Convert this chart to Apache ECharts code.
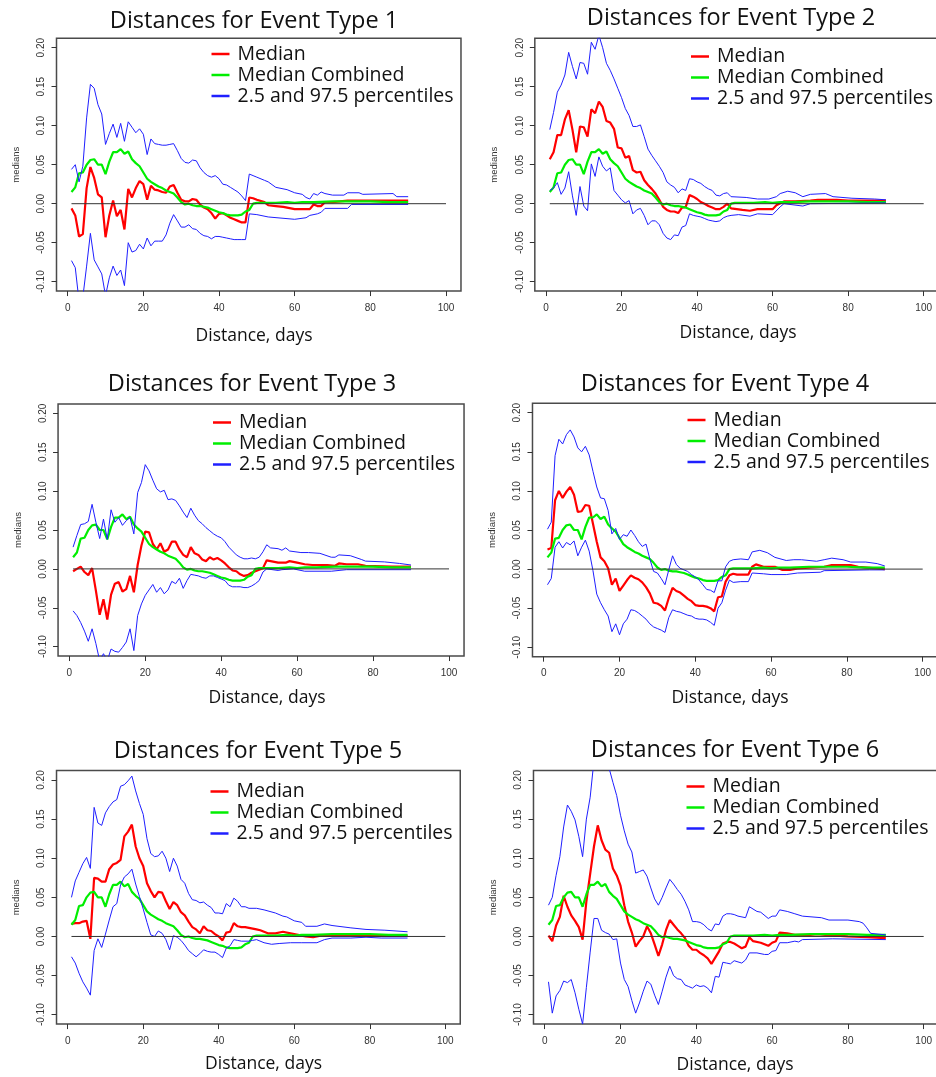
<!DOCTYPE html>
<html>
<head>
<meta charset="utf-8">
<title>Distances for Event Types 1-6</title>
<script src="https://cdn.jsdelivr.net/npm/echarts@6/dist/echarts.min.js"></script>
<style>
  html, body { margin: 0; padding: 0; background: #ffffff; }
  #chart { width: 936px; height: 1077px; }
</style>
</head>
<body>
<div id="chart"></div>
<script>
// ---- Text and ticks ----
const panelTitles = [
  'Distances for Event Type 1', 'Distances for Event Type 2',
  'Distances for Event Type 3', 'Distances for Event Type 4',
  'Distances for Event Type 5', 'Distances for Event Type 6'
];
const xAxisTitle = 'Distance, days';
const yAxisTitle = 'medians';
const legendLabels = ['Median', 'Median Combined', '2.5 and 97.5 percentiles'];
const xTicks = [0, 20, 40, 60, 80, 100];
const yTicks = [-0.10, -0.05, 0.00, 0.05, 0.10, 0.15, 0.20];
const zeroLine = [[1, 0], [100, 0]];

// ---- Median of all event types combined (same curve in every panel) ----
const medianCombined = [[1,0.015],[2,0.021],[3,0.039],[4,0.040],[5,0.050],[6,0.056],[7,0.057],[8,0.050],[9,0.050],[10,0.038],[11,0.054],[12,0.066],[13,0.066],[14,0.070],[15,0.064],[16,0.067],[17,0.057],[18,0.052],[19,0.048],[20,0.040],[21,0.032],[22,0.028],[23,0.025],[24,0.022],[25,0.020],[26,0.017],[27,0.015],[28,0.013],[29,0.008],[30,0.002],[31,-0.001],[32,0.000],[33,-0.002],[34,-0.003],[35,-0.003],[36,-0.004],[37,-0.005],[38,-0.007],[39,-0.009],[40,-0.011],[41,-0.012],[42,-0.014],[43,-0.015],[44,-0.015],[45,-0.015],[46,-0.014],[47,-0.010],[48,-0.008],[49,0.000],[50,0.001],[55,0.001],[58,0.002],[60,0.001],[62,0.002],[65,0.002],[70,0.003],[80,0.003],[85,0.002],[90,0.002]];

// ---- Event type 1 ----
const median1 = [[1,-0.006],[2,-0.015],[3,-0.042],[4,-0.039],[5,0.020],[6,0.047],[7,0.033],[8,0.012],[9,0.008],[10,-0.043],[11,-0.015],[12,0.004],[13,-0.016],[14,-0.008],[15,-0.033],[16,0.019],[17,0.008],[18,0.020],[19,0.029],[20,0.025],[21,0.005],[22,0.023],[23,0.018],[24,0.017],[25,0.015],[26,0.014],[27,0.022],[28,0.024],[29,0.014],[30,0.005],[31,0.003],[32,0.003],[33,0.006],[34,0.005],[35,-0.001],[36,-0.005],[37,-0.007],[38,-0.012],[39,-0.019],[40,-0.013],[41,-0.012],[42,-0.015],[43,-0.018],[44,-0.020],[45,-0.022],[46,-0.024],[47,-0.024],[48,0.008],[49,0.007],[50,0.005],[52,0.002],[53,-0.002],[55,-0.003],[57,-0.004],[60,-0.007],[64,-0.007],[65,-0.001],[66,-0.003],[67,-0.003],[68,0.002],[70,0.002],[74,0.004],[90,0.004]];
const upper1 = [[1,0.044],[2,0.050],[3,0.028],[4,0.048],[5,0.110],[6,0.153],[7,0.148],[8,0.127],[9,0.115],[10,0.076],[11,0.090],[12,0.102],[13,0.085],[14,0.103],[15,0.080],[16,0.105],[17,0.098],[18,0.091],[19,0.096],[20,0.089],[21,0.063],[22,0.083],[23,0.077],[24,0.076],[25,0.075],[26,0.075],[27,0.076],[28,0.077],[29,0.068],[30,0.058],[31,0.053],[32,0.052],[33,0.056],[34,0.055],[35,0.046],[36,0.040],[37,0.036],[38,0.034],[39,0.036],[40,0.032],[41,0.025],[42,0.024],[43,0.021],[44,0.018],[45,0.015],[46,0.010],[47,0.004],[48,0.038],[49,0.036],[50,0.034],[52,0.030],[53,0.028],[55,0.021],[58,0.018],[60,0.014],[62,0.012],[63,0.008],[64,0.006],[65,0.013],[66,0.011],[67,0.015],[68,0.013],[70,0.011],[73,0.011],[74,0.014],[77,0.014],[78,0.012],[86,0.013],[87,0.009],[90,0.009]];
const lower1 = [[1,-0.073],[2,-0.082],[3,-0.125],[4,-0.120],[5,-0.080],[6,-0.038],[7,-0.072],[8,-0.081],[9,-0.090],[10,-0.118],[11,-0.095],[12,-0.080],[13,-0.092],[14,-0.085],[15,-0.105],[16,-0.050],[17,-0.062],[18,-0.060],[19,-0.052],[20,-0.058],[21,-0.044],[22,-0.054],[23,-0.048],[24,-0.048],[25,-0.048],[26,-0.040],[27,-0.025],[28,-0.014],[29,-0.022],[30,-0.030],[31,-0.030],[32,-0.027],[33,-0.032],[34,-0.033],[35,-0.038],[36,-0.041],[37,-0.042],[38,-0.045],[39,-0.042],[40,-0.042],[41,-0.043],[42,-0.044],[43,-0.045],[44,-0.046],[45,-0.046],[46,-0.046],[47,-0.046],[48,-0.013],[50,-0.014],[53,-0.017],[60,-0.020],[63,-0.018],[64,-0.015],[66,-0.013],[67,-0.011],[68,-0.006],[74,-0.006],[75,-0.001],[90,-0.001]];

// ---- Event type 2 ----
const median2 = [[1,0.057],[2,0.066],[3,0.088],[4,0.088],[5,0.108],[6,0.120],[7,0.095],[8,0.066],[9,0.099],[10,0.098],[11,0.086],[12,0.121],[13,0.116],[14,0.131],[15,0.124],[16,0.106],[17,0.104],[18,0.096],[19,0.072],[20,0.071],[21,0.059],[22,0.061],[23,0.043],[24,0.040],[25,0.041],[26,0.030],[27,0.024],[28,0.019],[29,0.013],[30,0.005],[31,-0.004],[32,-0.008],[33,-0.010],[34,-0.010],[35,-0.012],[36,-0.005],[37,-0.004],[38,0.011],[39,0.009],[40,0.006],[41,0.002],[42,0.000],[43,-0.003],[44,-0.005],[45,-0.007],[46,-0.007],[47,-0.004],[48,0.000],[49,-0.006],[52,-0.008],[54,-0.009],[56,-0.007],[60,-0.007],[61,-0.002],[63,0.003],[66,0.003],[70,0.004],[72,0.005],[77,0.005],[80,0.004],[90,0.004]];
const upper2 = [[1,0.095],[2,0.117],[3,0.143],[4,0.152],[5,0.165],[6,0.194],[7,0.176],[8,0.160],[9,0.181],[10,0.180],[11,0.166],[12,0.207],[13,0.198],[14,0.216],[15,0.200],[16,0.180],[17,0.171],[18,0.160],[19,0.148],[20,0.136],[21,0.122],[22,0.113],[23,0.099],[24,0.099],[25,0.101],[26,0.086],[27,0.070],[28,0.062],[29,0.055],[30,0.048],[31,0.040],[32,0.028],[33,0.024],[34,0.021],[35,0.014],[36,0.019],[37,0.017],[38,0.032],[39,0.031],[40,0.028],[41,0.026],[42,0.022],[43,0.019],[44,0.017],[45,0.011],[46,0.010],[47,0.013],[48,0.014],[49,0.009],[53,0.008],[56,0.006],[59,0.006],[61,0.009],[62,0.013],[64,0.016],[66,0.014],[68,0.009],[70,0.012],[74,0.013],[76,0.009],[81,0.007],[87,0.006],[90,0.005]];
const lower2 = [[1,0.017],[2,0.020],[3,0.027],[4,0.012],[5,0.020],[6,0.041],[7,0.010],[8,-0.015],[9,0.022],[10,-0.003],[11,-0.009],[12,0.051],[13,0.035],[14,0.060],[15,0.048],[16,0.042],[17,0.046],[18,0.017],[19,0.011],[20,0.005],[21,0.001],[22,0.004],[23,-0.013],[24,-0.008],[25,-0.006],[26,-0.015],[27,-0.027],[28,-0.022],[29,-0.022],[30,-0.027],[31,-0.038],[32,-0.044],[33,-0.046],[34,-0.040],[35,-0.041],[36,-0.030],[37,-0.028],[38,-0.013],[39,-0.015],[40,-0.016],[41,-0.017],[42,-0.019],[43,-0.021],[44,-0.022],[45,-0.023],[46,-0.022],[47,-0.018],[48,-0.016],[49,-0.015],[51,-0.014],[54,-0.016],[56,-0.013],[60,-0.014],[62,-0.004],[63,0.000],[68,-0.003],[70,0.000],[90,0.001]];

// ---- Event type 3 ----
const median3 = [[1,-0.003],[2,0.000],[3,0.003],[4,-0.004],[5,-0.008],[6,0.001],[7,-0.028],[8,-0.059],[9,-0.039],[10,-0.065],[11,-0.033],[12,-0.019],[13,-0.017],[14,-0.029],[15,-0.026],[16,-0.009],[17,-0.030],[18,0.005],[19,0.030],[20,0.048],[21,0.047],[22,0.032],[23,0.025],[24,0.033],[25,0.022],[26,0.025],[27,0.035],[28,0.035],[29,0.025],[30,0.018],[31,0.015],[32,0.028],[33,0.020],[34,0.018],[35,0.012],[36,0.010],[37,0.015],[38,0.012],[39,0.014],[40,0.011],[41,0.007],[42,0.002],[43,-0.002],[44,-0.003],[45,-0.007],[46,-0.009],[47,-0.008],[48,-0.005],[49,-0.003],[50,-0.001],[51,0.001],[52,0.011],[53,0.010],[55,0.008],[57,0.008],[58,0.010],[60,0.008],[62,0.006],[64,0.005],[68,0.005],[70,0.004],[71,0.007],[73,0.006],[76,0.006],[78,0.004],[85,0.003],[90,0.003]];
const upper3 = [[1,0.028],[2,0.043],[3,0.057],[4,0.058],[5,0.061],[6,0.083],[7,0.060],[8,0.039],[9,0.064],[10,0.038],[11,0.076],[12,0.060],[13,0.066],[14,0.056],[15,0.062],[16,0.066],[17,0.045],[18,0.098],[19,0.111],[20,0.134],[21,0.126],[22,0.114],[23,0.103],[24,0.099],[25,0.101],[26,0.089],[27,0.090],[28,0.088],[29,0.081],[30,0.073],[31,0.066],[32,0.078],[33,0.069],[34,0.062],[35,0.058],[36,0.053],[37,0.049],[38,0.045],[39,0.042],[40,0.040],[41,0.035],[42,0.028],[43,0.023],[44,0.018],[45,0.015],[46,0.013],[47,0.013],[48,0.014],[49,0.013],[50,0.015],[51,0.022],[52,0.031],[53,0.027],[55,0.026],[56,0.024],[57,0.027],[58,0.023],[61,0.021],[63,0.021],[66,0.020],[69,0.015],[70,0.015],[71,0.018],[74,0.017],[77,0.012],[78,0.010],[83,0.009],[87,0.007],[90,0.005]];
const lower3 = [[1,-0.054],[2,-0.060],[3,-0.069],[4,-0.080],[5,-0.093],[6,-0.077],[7,-0.096],[8,-0.118],[9,-0.109],[10,-0.118],[11,-0.103],[12,-0.106],[13,-0.107],[14,-0.101],[15,-0.094],[16,-0.077],[17,-0.105],[18,-0.060],[19,-0.045],[20,-0.034],[21,-0.027],[22,-0.020],[23,-0.030],[24,-0.024],[25,-0.032],[26,-0.027],[27,-0.016],[28,-0.019],[29,-0.012],[30,-0.025],[31,-0.015],[32,-0.007],[33,-0.008],[34,-0.009],[35,-0.011],[36,-0.012],[37,-0.009],[38,-0.009],[39,-0.011],[40,-0.013],[41,-0.015],[42,-0.021],[43,-0.023],[44,-0.023],[45,-0.023],[46,-0.024],[47,-0.024],[48,-0.022],[49,-0.019],[50,-0.015],[51,-0.004],[52,0.000],[55,-0.002],[56,-0.001],[59,0.000],[62,-0.003],[69,-0.003],[73,-0.001],[90,-0.001]];

// ---- Event type 4 ----
const median4 = [[1,0.025],[2,0.027],[3,0.088],[4,0.100],[5,0.091],[6,0.099],[7,0.105],[8,0.095],[9,0.073],[10,0.074],[11,0.082],[12,0.081],[13,0.058],[14,0.035],[15,0.015],[16,0.010],[17,0.001],[18,-0.020],[19,-0.012],[20,-0.028],[21,-0.021],[22,-0.014],[23,-0.008],[24,-0.011],[25,-0.013],[26,-0.017],[27,-0.023],[28,-0.031],[29,-0.043],[30,-0.044],[31,-0.047],[32,-0.053],[33,-0.037],[34,-0.024],[35,-0.028],[36,-0.030],[37,-0.034],[38,-0.038],[39,-0.041],[40,-0.046],[41,-0.047],[42,-0.047],[43,-0.048],[44,-0.050],[45,-0.054],[46,-0.036],[47,-0.035],[48,-0.016],[49,-0.008],[50,-0.006],[51,-0.007],[54,-0.007],[55,0.003],[56,0.006],[58,0.003],[61,0.003],[63,-0.001],[65,-0.001],[67,0.001],[74,0.003],[76,0.005],[81,0.005],[83,0.003],[90,0.000]];
const upper4 = [[1,0.051],[2,0.060],[3,0.145],[4,0.166],[5,0.160],[6,0.172],[7,0.178],[8,0.169],[9,0.155],[10,0.150],[11,0.157],[12,0.146],[13,0.125],[14,0.105],[15,0.091],[16,0.090],[17,0.075],[18,0.045],[19,0.052],[20,0.038],[21,0.044],[22,0.042],[23,0.050],[24,0.043],[25,0.035],[26,0.029],[27,0.032],[28,0.013],[29,-0.003],[30,-0.005],[31,-0.012],[32,-0.020],[33,-0.001],[34,0.017],[35,0.006],[36,0.001],[37,-0.001],[38,-0.003],[39,-0.007],[40,-0.010],[41,-0.014],[42,-0.020],[43,-0.026],[44,-0.027],[45,-0.030],[46,-0.015],[47,-0.015],[48,0.003],[49,0.010],[50,0.012],[52,0.013],[54,0.012],[55,0.022],[57,0.024],[59,0.021],[61,0.015],[64,0.011],[66,0.012],[68,0.012],[72,0.010],[74,0.012],[76,0.014],[79,0.012],[81,0.009],[85,0.009],[88,0.007],[90,0.004]];
const lower4 = [[1,-0.020],[2,-0.012],[3,0.028],[4,0.035],[5,0.027],[6,0.034],[7,0.031],[8,0.036],[9,0.017],[10,0.028],[11,0.037],[12,0.023],[13,-0.002],[14,-0.032],[15,-0.043],[16,-0.052],[17,-0.060],[18,-0.080],[19,-0.070],[20,-0.084],[21,-0.070],[22,-0.064],[23,-0.052],[24,-0.053],[25,-0.056],[26,-0.060],[27,-0.064],[28,-0.070],[29,-0.074],[30,-0.076],[31,-0.078],[32,-0.081],[33,-0.062],[34,-0.052],[35,-0.054],[36,-0.055],[37,-0.057],[38,-0.059],[39,-0.060],[40,-0.063],[41,-0.064],[42,-0.064],[43,-0.065],[44,-0.068],[45,-0.072],[46,-0.050],[47,-0.043],[48,-0.027],[49,-0.014],[50,-0.017],[52,-0.016],[54,-0.016],[55,-0.005],[58,-0.006],[60,-0.007],[64,-0.007],[67,-0.005],[73,-0.004],[74,-0.002],[86,-0.001],[90,-0.001]];

// ---- Event type 5 ----
const median5 = [[1,0.016],[2,0.017],[3,0.017],[4,0.019],[5,0.020],[6,-0.003],[7,0.075],[8,0.074],[9,0.070],[10,0.070],[11,0.086],[12,0.092],[13,0.094],[14,0.098],[15,0.128],[16,0.134],[17,0.143],[18,0.115],[19,0.100],[20,0.090],[21,0.068],[22,0.058],[23,0.050],[24,0.057],[25,0.056],[26,0.045],[27,0.035],[28,0.044],[29,0.040],[30,0.031],[31,0.027],[32,0.019],[33,0.012],[34,0.009],[35,0.004],[36,0.013],[37,0.008],[38,0.007],[39,0.003],[40,0.000],[41,-0.005],[42,0.005],[43,0.006],[44,0.017],[45,0.013],[46,0.012],[47,0.012],[48,0.011],[49,0.010],[50,0.009],[51,0.008],[53,0.004],[55,0.004],[57,0.006],[59,0.004],[61,0.002],[63,0.000],[65,-0.001],[67,0.001],[70,0.002],[79,0.002],[82,0.001],[90,0.001]];
const upper5 = [[1,0.050],[2,0.071],[3,0.082],[4,0.093],[5,0.101],[6,0.087],[7,0.165],[8,0.145],[9,0.142],[10,0.158],[11,0.166],[12,0.172],[13,0.175],[14,0.192],[15,0.194],[16,0.199],[17,0.205],[18,0.186],[19,0.170],[20,0.156],[21,0.125],[22,0.106],[23,0.102],[24,0.103],[25,0.109],[26,0.100],[27,0.083],[28,0.100],[29,0.090],[30,0.073],[31,0.068],[32,0.055],[33,0.047],[34,0.046],[35,0.043],[36,0.044],[37,0.040],[38,0.037],[39,0.030],[40,0.030],[41,0.029],[42,0.042],[43,0.038],[44,0.049],[45,0.045],[46,0.038],[47,0.038],[48,0.036],[50,0.036],[52,0.034],[55,0.030],[57,0.026],[58,0.025],[60,0.020],[62,0.018],[63,0.013],[66,0.013],[68,0.016],[70,0.014],[75,0.011],[79,0.009],[84,0.008],[90,0.006]];
const lower5 = [[1,-0.026],[2,-0.034],[3,-0.047],[4,-0.058],[5,-0.066],[6,-0.075],[7,-0.018],[8,-0.003],[9,-0.014],[10,0.003],[11,0.021],[12,0.038],[13,0.042],[14,0.066],[15,0.076],[16,0.080],[17,0.086],[18,0.067],[19,0.051],[20,0.035],[21,0.018],[22,0.002],[23,0.000],[24,0.007],[25,0.004],[26,-0.004],[27,-0.017],[28,0.001],[29,-0.001],[30,-0.005],[31,-0.011],[32,-0.018],[33,-0.022],[34,-0.026],[35,-0.022],[36,-0.017],[37,-0.019],[38,-0.020],[39,-0.020],[40,-0.023],[41,-0.027],[42,-0.015],[43,-0.012],[44,-0.004],[45,-0.005],[46,-0.006],[48,-0.006],[49,-0.005],[50,-0.004],[52,-0.008],[54,-0.010],[56,-0.009],[59,-0.008],[62,-0.008],[66,-0.008],[68,-0.004],[70,-0.002],[75,-0.002],[79,-0.001],[83,-0.002],[90,-0.002]];

// ---- Event type 6 ----
const median6 = [[1,0.001],[2,-0.006],[3,0.014],[4,0.025],[5,0.052],[6,0.038],[7,0.027],[8,0.020],[9,0.012],[10,-0.004],[11,0.045],[12,0.080],[13,0.115],[14,0.142],[15,0.123],[16,0.111],[17,0.107],[18,0.087],[19,0.078],[20,0.065],[21,0.040],[22,0.019],[23,0.005],[24,-0.013],[25,-0.006],[26,0.000],[27,0.013],[28,0.004],[29,-0.010],[30,-0.025],[31,-0.010],[32,0.008],[33,0.021],[34,0.015],[35,0.009],[36,0.004],[37,-0.002],[38,-0.012],[39,-0.017],[40,-0.017],[41,-0.021],[42,-0.024],[43,-0.028],[44,-0.035],[45,-0.027],[46,-0.019],[47,-0.009],[48,-0.007],[49,-0.007],[50,-0.009],[51,-0.012],[52,-0.015],[53,-0.013],[54,-0.001],[55,-0.006],[57,-0.008],[59,-0.012],[60,-0.008],[61,-0.006],[62,0.005],[64,0.004],[66,0.002],[70,0.002],[72,0.003],[74,0.002],[80,0.000],[85,-0.001],[90,-0.002]];
const upper6 = [[1,0.040],[2,0.050],[3,0.078],[4,0.102],[5,0.140],[6,0.168],[7,0.160],[8,0.149],[9,0.128],[10,0.102],[11,0.150],[12,0.178],[13,0.225],[14,0.245],[15,0.250],[16,0.235],[17,0.215],[18,0.197],[19,0.180],[20,0.155],[21,0.135],[22,0.118],[23,0.108],[24,0.081],[25,0.083],[26,0.085],[27,0.077],[28,0.062],[29,0.048],[30,0.040],[31,0.050],[32,0.062],[33,0.073],[34,0.067],[35,0.060],[36,0.054],[37,0.045],[38,0.034],[39,0.019],[40,0.019],[41,0.018],[42,0.015],[43,0.010],[44,0.007],[45,0.016],[46,0.015],[47,0.026],[48,0.029],[49,0.029],[50,0.028],[51,0.026],[53,0.024],[54,0.038],[56,0.032],[57,0.031],[59,0.023],[60,0.026],[61,0.026],[62,0.034],[64,0.032],[66,0.029],[68,0.026],[73,0.024],[75,0.021],[80,0.021],[83,0.019],[84,0.017],[85,0.011],[86,0.004],[90,0.002]];
const lower6 = [[1,-0.058],[2,-0.098],[3,-0.076],[4,-0.069],[5,-0.057],[6,-0.059],[7,-0.055],[8,-0.072],[9,-0.093],[10,-0.112],[11,-0.065],[12,-0.020],[13,0.023],[14,0.023],[15,0.008],[16,0.005],[17,0.003],[18,-0.004],[19,-0.003],[20,-0.034],[21,-0.055],[22,-0.064],[23,-0.082],[24,-0.098],[25,-0.085],[26,-0.070],[27,-0.057],[28,-0.061],[29,-0.075],[30,-0.087],[31,-0.070],[32,-0.052],[33,-0.038],[34,-0.050],[35,-0.054],[36,-0.055],[37,-0.062],[38,-0.064],[39,-0.066],[40,-0.062],[41,-0.064],[42,-0.063],[43,-0.066],[44,-0.072],[45,-0.051],[46,-0.052],[47,-0.033],[48,-0.034],[49,-0.035],[50,-0.031],[52,-0.034],[53,-0.030],[54,-0.021],[56,-0.021],[58,-0.023],[59,-0.023],[60,-0.019],[61,-0.018],[62,-0.008],[64,-0.008],[66,-0.006],[67,-0.007],[68,-0.004],[76,-0.003],[90,-0.004]];

const medians = [median1, median2, median3, median4, median5, median6];
const uppers = [upper1, upper2, upper3, upper4, upper5, upper6];
const lowers = [lower1, lower2, lower3, lower4, lower5, lower6];

// ---- Page layout (pixel positions of the 0/100 day ticks and 0.20/-0.10 ticks) ----
const panelLayout = [
  { x0: 67.7,  x100: 446.0, y20: 47.7,  ym10: 281.7,  title: [254, 21.5],  xName: [254, 336.5],  legend: [211.5, 43.5] },
  { x0: 546.0, x100: 923.7, y20: 47.7,  ym10: 281.7,  title: [731, 18.5],  xName: [738, 333.5],  legend: [691, 46] },
  { x0: 69.3,  x100: 449.0, y20: 413.3, ym10: 646.7,  title: [252, 384],   xName: [267, 698],    legend: [213, 412] },
  { x0: 543.7, x100: 922.7, y20: 412.7, ym10: 647.3,  title: [725, 384],   xName: [730, 698],    legend: [687.5, 409.5] },
  { x0: 67.7,  x100: 445.3, y20: 780.0, ym10: 1014.7, title: [258, 751.5], xName: [263.5, 1064], legend: [210.5, 781] },
  { x0: 544.7, x100: 923.7, y20: 780.0, ym10: 1014.7, title: [735, 750.5], xName: [735, 1065],   legend: [686.5, 776] }
];
// R-style axis extents: 4% padding around xlim = [1, 100] and ylim = [-0.1, 0.2]
const X_MIN = -2.96, X_MAX = 103.96;
const Y_MIN = -0.112, Y_MAX = 0.212;

const UI_FONT = '"Open Sans", "Noto Sans", sans-serif';
const AXIS_FONT = '"Liberation Sans", Arial, sans-serif';
const RED = '#ff0000', GREEN = '#00ee00', BLUE = '#1f1fff';

const grids = [], xAxes = [], yAxes = [], series = [], legends = [], graphics = [];

panelLayout.forEach((p, i) => {
  const sx = (p.x100 - p.x0) / 100;
  const sy = (p.ym10 - p.y20) / 0.3;
  grids.push({
    left: p.x0 + X_MIN * sx,
    width: (X_MAX - X_MIN) * sx,
    top: p.y20 - (Y_MAX - 0.2) * sy,
    height: (Y_MAX - Y_MIN) * sy,
    show: true,
    borderColor: '#4a4a4a',
    borderWidth: 1.5,
    backgroundColor: 'transparent',
    containLabel: false,
    outerBoundsMode: 'none'
  });
  xAxes.push({
    type: 'value', gridIndex: i, min: X_MIN, max: X_MAX, position: 'bottom',
    axisLine: { show: false, onZero: false },
    splitLine: { show: false },
    axisTick: { show: true, customValues: xTicks, length: 5, lineStyle: { color: '#333', width: 1 } },
    axisLabel: { customValues: xTicks, margin: 12, fontSize: 10, color: '#333', fontFamily: AXIS_FONT }
  });
  yAxes.push({
    type: 'value', gridIndex: i, min: Y_MIN, max: Y_MAX, position: 'left',
    name: yAxisTitle, nameLocation: 'middle', nameGap: 35,
    nameTextStyle: { fontSize: 9.5, color: '#333', fontFamily: AXIS_FONT },
    axisLine: { show: false, onZero: false },
    splitLine: { show: false },
    axisTick: { show: true, customValues: yTicks, length: 5, lineStyle: { color: '#333', width: 1 } },
    axisLabel: {
      customValues: yTicks, rotate: 90, margin: 10, fontSize: 10, color: '#333', fontFamily: AXIS_FONT,
      formatter: v => v.toFixed(2)
    }
  });

  const common = { type: 'line', xAxisIndex: i, yAxisIndex: i, showSymbol: false, symbol: 'none', clip: true, silent: true };
  series.push(Object.assign({ name: legendLabels[0], data: medians[i], lineStyle: { color: RED, width: 2.2 }, itemStyle: { color: RED } }, common));
  series.push(Object.assign({ name: legendLabels[1], data: medianCombined, lineStyle: { color: GREEN, width: 2.2 }, itemStyle: { color: GREEN } }, common));
  series.push(Object.assign({ name: legendLabels[2], data: uppers[i], lineStyle: { color: BLUE, width: 1 }, itemStyle: { color: BLUE } }, common));
  series.push(Object.assign({ name: legendLabels[2], data: lowers[i], lineStyle: { color: BLUE, width: 1 }, itemStyle: { color: BLUE } }, common));
  series.push(Object.assign({ name: 'zero', data: zeroLine, lineStyle: { color: '#333', width: 1 }, itemStyle: { color: '#333' } }, common));

  legends.push({
    data: legendLabels, orient: 'vertical', left: p.legend[0], top: p.legend[1],
    icon: 'rect', itemWidth: 18, itemHeight: 2.5, itemGap: 0, padding: 0,
    selectedMode: false,
    textStyle: { fontSize: 19.5, lineHeight: 21, color: '#111', fontFamily: UI_FONT, padding: [0, 0, 0, 3] }
  });

  graphics.push({
    type: 'text', x: p.title[0], y: p.title[1], silent: true,
    style: { text: panelTitles[i], fill: '#111', font: '23.5px ' + UI_FONT, align: 'center', verticalAlign: 'middle' }
  });
  graphics.push({
    type: 'text', x: p.xName[0], y: p.xName[1], silent: true,
    style: { text: xAxisTitle, fill: '#111', font: '17.5px ' + UI_FONT, align: 'center', verticalAlign: 'middle' }
  });
});

const chart = echarts.init(document.getElementById('chart'), null, { renderer: 'canvas' });
chart.setOption({
  animation: false,
  backgroundColor: '#ffffff',
  grid: grids,
  xAxis: xAxes,
  yAxis: yAxes,
  legend: legends,
  series: series,
  graphic: graphics
});
</script>
</body>
</html>
